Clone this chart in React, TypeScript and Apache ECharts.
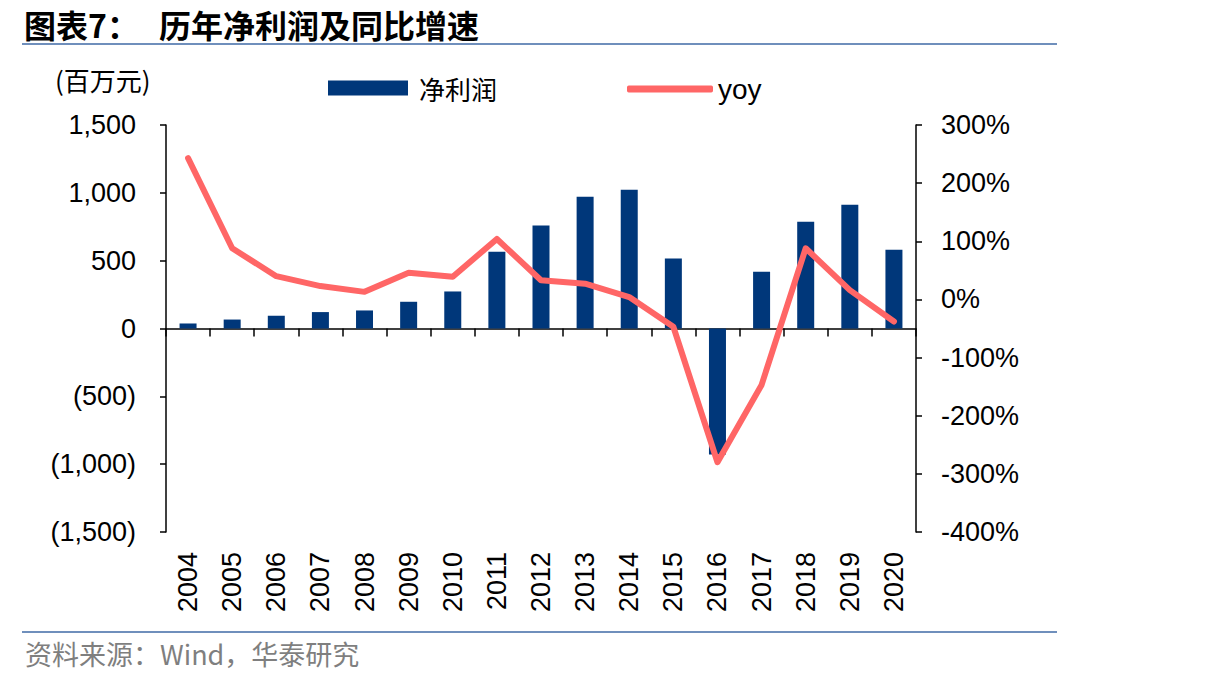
import React, { useEffect, useRef } from "react";
import * as echarts from "echarts";

const years = ["2004", "2005", "2006", "2007", "2008", "2009", "2010", "2011", "2012", "2013", "2014", "2015", "2016", "2017", "2018", "2019", "2020"];
const netProfit = [37, 66, 94, 121, 133, 197, 273, 566, 760, 971, 1023, 516, -929, 418, 787, 912, 580];
const yoy = [243, 88, 40, 23, 13, 46, 39, 104, 33, 27, 4, -47, -280, -147, 88, 16, -38];

const titleLeft = "图表7：";
const titleRight = "历年净利润及同比增速";
const unitLabel = "(百万元)";
const sourceText = "资料来源：Wind，华泰研究";
const barName = "净利润";
const lineName = "yoy";

const LATIN = "'Liberation Sans', Arial, sans-serif";
const CJK = "'Noto Sans CJK SC', sans-serif";

function fmtLeft(v: number): string {
  const s = Math.abs(v).toLocaleString("en-US");
  return v < 0 ? `(${s})` : s;
}

export default function App() {
  const ref = useRef<HTMLDivElement>(null);
  useEffect(() => {
    if (!ref.current) return;
    const chart = echarts.init(ref.current, undefined, { renderer: "svg" });
    chart.setOption({
      animation: false,
      backgroundColor: "#ffffff",
      grid: { left: 166, right: 290, top: 125, bottom: 154, containLabel: false },
      legend: [
        {
          data: [{ name: barName, icon: "rect" }],
          left: 323,
          top: 70,
          itemWidth: 80,
          itemHeight: 15,
          textStyle: { fontSize: 26, fontFamily: CJK, color: "#000", padding: [0, 0, 0, 6] },
          selectedMode: false,
        },
        {
          data: [{ name: lineName, icon: "roundRect" }],
          left: 622,
          top: 70,
          itemWidth: 86,
          itemHeight: 7,
          textStyle: { fontSize: 28, fontFamily: LATIN, color: "#000", padding: [0, 0, 0, 0] },
          selectedMode: false,
        },
      ],
      xAxis: [
        {
          type: "category",
          data: years,
          position: "bottom",
          axisLine: { show: false, onZero: false },
          axisTick: { show: false },
          axisLabel: { rotate: 90, margin: 20, fontSize: 27, fontFamily: LATIN, color: "#000" },
        },
        {
          type: "category",
          data: years,
          position: "bottom",
          axisLine: { show: true, onZero: true, lineStyle: { color: "#000", width: 1.5 } },
          axisTick: { show: true, length: 8, lineStyle: { color: "#000", width: 1.5 } },
          axisLabel: { show: false },
        },
      ],
      yAxis: [
        {
          type: "value",
          min: -1500,
          max: 1500,
          interval: 500,
          position: "left",
          axisLine: { show: true, lineStyle: { color: "#000", width: 1.5 } },
          axisTick: { show: true, length: 6, lineStyle: { color: "#000", width: 1.5 } },
          splitLine: { show: false },
          axisLabel: { formatter: fmtLeft, margin: 30, fontSize: 27, fontFamily: LATIN, color: "#000" },
        },
        {
          type: "value",
          min: -400,
          max: 300,
          interval: 100,
          position: "right",
          axisLine: { show: true, lineStyle: { color: "#000", width: 1.5 } },
          axisTick: { show: true, length: 6, lineStyle: { color: "#000", width: 1.5 } },
          splitLine: { show: false },
          axisLabel: { formatter: "{value}%", margin: 25, fontSize: 27, fontFamily: LATIN, color: "#000" },
        },
      ],
      series: [
        {
          name: barName,
          type: "bar",
          xAxisIndex: 0,
          yAxisIndex: 0,
          data: netProfit,
          barWidth: 17,
          itemStyle: { color: "#00377A" },
          z: 2,
        },
        {
          name: lineName,
          type: "line",
          xAxisIndex: 0,
          yAxisIndex: 1,
          data: yoy,
          symbol: "none",
          itemStyle: { color: "#FF6666" },
          lineStyle: { color: "#FF6666", width: 6, cap: "round", join: "round" },
          z: 3,
        },
      ],
      graphic: [
        {
          type: "text",
          x: 24,
          y: 24,
          style: { text: titleLeft, fontSize: 32, fontWeight: "bold", fontFamily: CJK, fill: "#000", verticalAlign: "middle", align: "left" },
        },
        {
          type: "text",
          x: 159,
          y: 24,
          style: { text: titleRight, fontSize: 32, fontWeight: "bold", fontFamily: CJK, fill: "#000", verticalAlign: "middle", align: "left" },
        },
        {
          type: "line",
          shape: { x1: 22, y1: 44, x2: 1057, y2: 44 },
          style: { stroke: "#6F8FBC", lineWidth: 2 },
        },
        {
          type: "text",
          left: 55,
          top: 66,
          style: { text: unitLabel, fontSize: 26, fontFamily: CJK, fill: "#000" },
        },
        {
          type: "line",
          shape: { x1: 22, y1: 632, x2: 1057, y2: 632 },
          style: { stroke: "#6F8FBC", lineWidth: 2 },
        },
        {
          type: "text",
          left: 25,
          top: 640,
          style: { text: sourceText, fontSize: 27, fontFamily: CJK, fill: "#7F7F7F" },
        },
      ],
    });
    return () => chart.dispose();
  }, []);
  return <div ref={ref} style={{ width: 1206, height: 686, position: "absolute", left: 0, top: 0 }} />;
}
